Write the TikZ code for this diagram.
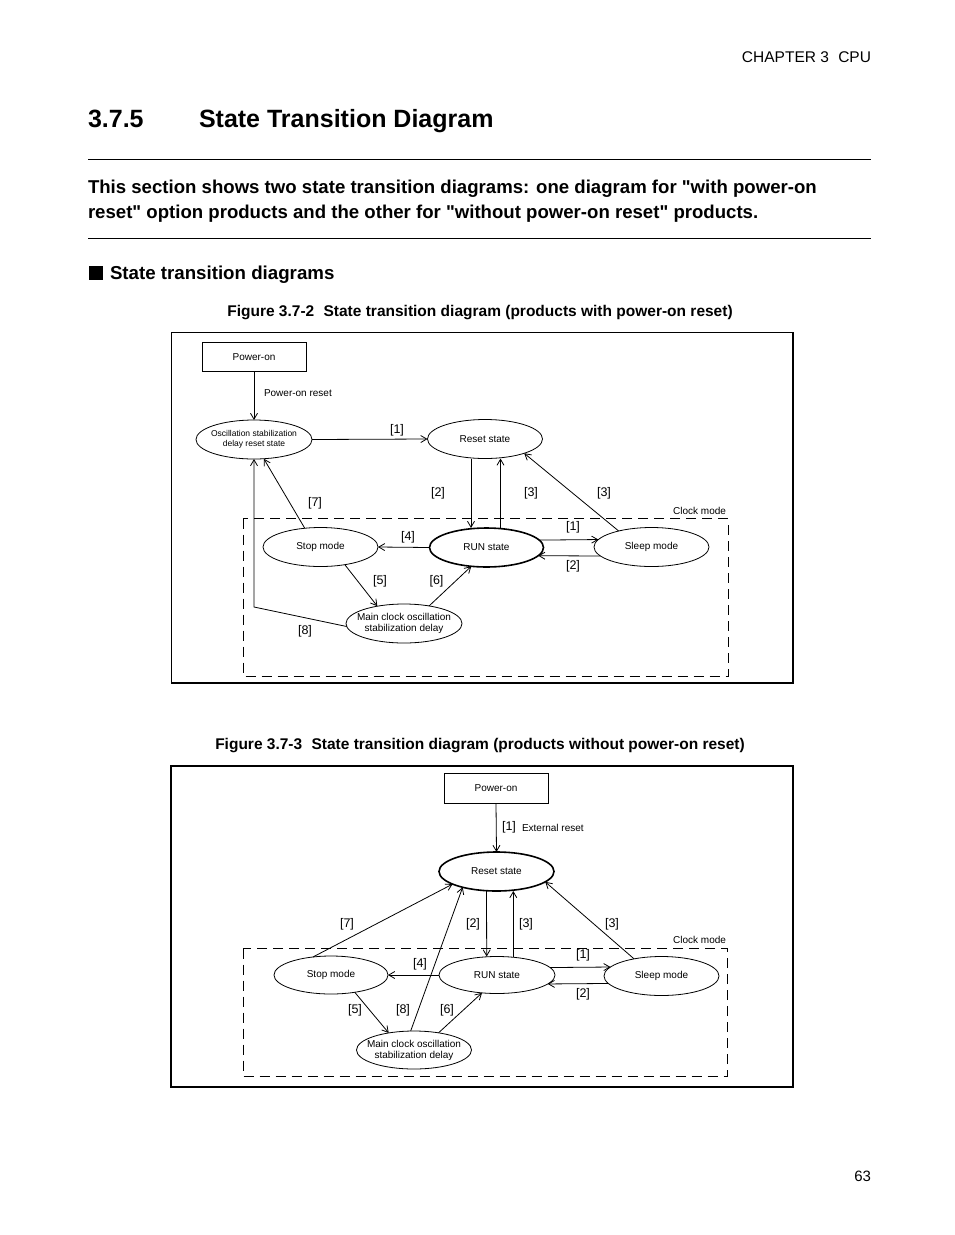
\documentclass[tikz,border=0pt]{standalone}
\usepackage{fontspec}
\setmainfont{Liberation Sans}
\newfontfamily\qfont{Liberation Sans}[Mapping=]
\usetikzlibrary{shapes.geometric,arrows.meta}
\newcommand\fsz[2]{\fontsize{#1}{#2}\selectfont}
\tikzset{
  every node/.style={inner sep=0pt, outer sep=0pt},
  stt/.style={font=\fsz{10}{11}, align=center},
  sttsmall/.style={font=\fsz{8.5}{9.5}, align=center},
  st/.style={ellipse, draw, line width=0.8pt, minimum width=115pt, minimum height=39pt},
  runst/.style={st, line width=1.6pt},
  pbox/.style={draw, line width=1pt, minimum width=104pt, minimum height=29.5pt, font=\fsz{10}{11}},
  conn/.style={line width=0.8pt, -{Straight Barb[length=6pt,width=7pt]}},
  lab/.style={font=\fsz{12.5}{14}},
  txt/.style={font=\fsz{10}{11}},
  clk/.style={draw, line width=1pt, dash pattern=on 10pt off 6pt},
  frm/.style={draw, line width=1.2pt},
  rule/.style={line width=1pt},
  paratext/.style={anchor=base west, font=\qfont\bfseries\fsz{18.6}{25}},
}
\begin{document}
\begin{tikzpicture}[x=1pt,y=1pt]
\useasboundingbox (0,0) rectangle (954,-1235);
\fill[white] (0,0) rectangle (954,-1235);

% ---------- page text ----------
\node[anchor=base east, font=\fsz{15.5}{18}] (chap) at (871,-62.5) {CHAPTER 3\hspace{0.6em}CPU};
\node[anchor=base west, font=\bfseries\fsz{25}{28}] (secno) at (88,-127) {3.7.5};
\node[anchor=base west, font=\bfseries\fsz{25}{28}] (sectitle) at (199,-127) {State Transition Diagram};
\draw[rule] (88,-159.5) coordinate (r1a) -- (871,-159.5) coordinate (r1b);
\node[paratext] (para1) at (88,-193.5) {This section shows two state transition diagrams: one diagram for "with power-on};
\node[paratext] (para2) at (88,-218.5) {reset" option products and the other for "without power-on reset" products.};
\draw[rule] (88,-238.5) coordinate (r2a) -- (871,-238.5) coordinate (r2b);
\fill (88.5,-265.5) rectangle (103,-280);
\node[anchor=base west, font=\bfseries\fsz{18.7}{22}] (subsec) at (110,-279.5) {State transition diagrams};
\node[anchor=base, font=\bfseries\fsz{15.5}{18}] (cap1) at (480,-316.5) {Figure 3.7-2\hspace{0.6em}State transition diagram (products with power-on reset)};
\node[anchor=base, font=\bfseries\fsz{15.5}{18}] (cap2) at (480,-749.5) {Figure 3.7-3\hspace{0.6em}State transition diagram (products without power-on reset)};
\node[anchor=base east, font=\fsz{15}{18}] (pageno) at (871,-1181.5) {63};

% ---------- Figure 3.7-2 ----------
\draw[frm] (171.5,-332.5) rectangle (793,-683);
\draw[clk] (243,-518.5) rectangle (728,-676);
\node[anchor=east, txt] (clock1) at (726,-511) {Clock mode};

\node[pbox] (pon1) at (254,-357) {Power-on};
\node[st, minimum width=116pt, label={[sttsmall]center:{Oscillation stabilization\\delay reset state}}] (osc) at (254,-439.5) {};
\node[st, label={[stt]center:Reset state}] (rst1) at (485,-439) {};
\node[runst, minimum width=114pt, label={[stt]center:RUN state}] (run1) at (486.5,-547.5) {};
\node[st, label={[stt]center:Stop mode}] (stop1) at (320.5,-547) {};
\node[st, label={[stt]center:Sleep mode}] (sleep1) at (651.5,-547) {};
\node[st, minimum width=116pt, label={[stt]center:{Main clock oscillation\\stabilization delay}}] (main1) at (404,-623.5) {};
\coordinate (c8) at (254,-607);

\draw[conn] (pon1.south) -- (osc.north);
\draw[conn] (osc.east) -- (rst1.west);
\draw[conn] ([xshift=-14pt]rst1.south) -- ([xshift=-15.5pt]run1.north);
\draw[conn] ([xshift=14pt]run1.north) -- ([xshift=15.5pt]rst1.south);
\draw[conn] (sleep1.154.5) -- (rst1.-20);
\draw[conn] (stop1.130) -- (osc.-63);
\draw[conn] (run1.west) -- (stop1.east);
\draw[conn] (run1.8) -- (sleep1.172.6);
\draw[conn] (sleep1.190) -- (run1.-9.4);
\draw[conn] (stop1.-36) -- (main1.147);
\draw[conn] (main1.35) -- (run1.-129);
\draw[conn] (main1.183) -- (c8) -- (osc.south);

\node[anchor=west, txt] (lpor) at (264,-393) {Power-on reset};
\node[lab] (l1a) at (397,-430) {[1]};
\node[lab] (l2a) at (438,-493) {[2]};
\node[lab] (l3a) at (531,-493) {[3]};
\node[lab] (l3b) at (604,-493) {[3]};
\node[lab] (l7a) at (315,-503) {[7]};
\node[lab] (l4a) at (408,-537) {[4]};
\node[lab] (l1b) at (573,-527) {[1]};
\node[lab] (l2b) at (573,-566.5) {[2]};
\node[lab] (l5a) at (380,-581.5) {[5]};
\node[lab] (l6a) at (436.5,-581.5) {[6]};
\node[lab] (l8a) at (305,-631.5) {[8]};

% ---------- Figure 3.7-3 ----------
\draw[frm] (171,-766) rectangle (793,-1087);
\draw[clk] (243,-948.5) rectangle (727.5,-1076);
\node[anchor=east, txt] (clock2) at (726,-940) {Clock mode};

\node[pbox] (pon2) at (496,-788.5) {Power-on};
\node[runst, label={[stt]center:Reset state}] (rst2) at (496.5,-871.5) {};
\node[st, minimum width=114pt, minimum height=38pt, label={[stt]center:Stop mode}] (stop2) at (331,-975) {};
\node[st, minimum width=116pt, minimum height=37pt, label={[stt]center:RUN state}] (run2) at (497,-975) {};
\node[st, label={[stt]center:Sleep mode}] (sleep2) at (661.5,-976) {};
\node[st, minimum height=38pt, label={[stt]center:{Main clock oscillation\\stabilization delay}}] (main2) at (414,-1050) {};

\draw[conn] (pon2.south) -- (rst2.north);
\draw[conn] ([xshift=-10pt]rst2.south) -- ([xshift=-10.3pt]run2.north);
\draw[conn] ([xshift=16.3pt]run2.north) -- ([xshift=16.8pt]rst2.south);
\draw[conn] (sleep2.148) -- (rst2.-12);
\draw[conn] (stop2.135) -- (rst2.196);
\draw[conn] (main2.100) -- (rst2.-155);
\draw[conn] (run2.west) -- (stop2.east);
\draw[conn] (run2.8.7) -- (sleep2.170);
\draw[conn] (sleep2.188.7) -- (run2.-10.1);
\draw[conn] (stop2.-36) -- (main2.146);
\draw[conn] (main2.35.5) -- (run2.-130);

\node[lab] (l1c) at (509,-827) {[1]};
\node[anchor=west, txt] (lext) at (522,-828) {External reset};
\node[lab] (l7c) at (347,-924) {[7]};
\node[lab] (l2c) at (473,-924) {[2]};
\node[lab] (l3c) at (526,-924) {[3]};
\node[lab] (l3d) at (612,-924) {[3]};
\node[lab] (l4c) at (420,-964) {[4]};
\node[lab] (l1d) at (583,-955.5) {[1]};
\node[lab] (l2d) at (583,-994.5) {[2]};
\node[lab] (l5c) at (355,-1010) {[5]};
\node[lab] (l8c) at (403,-1010) {[8]};
\node[lab] (l6c) at (447,-1010) {[6]};
\end{tikzpicture}
\end{document}
